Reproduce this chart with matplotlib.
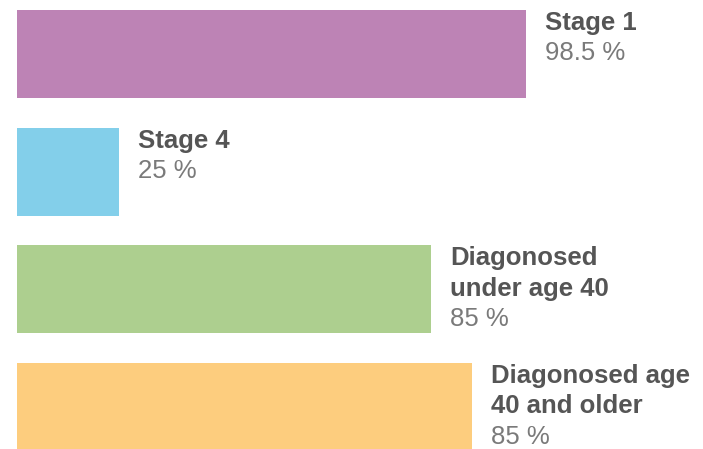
import matplotlib
matplotlib.use("Agg")
import matplotlib.pyplot as plt

# Group labels (one list per bar, one entry per text line)
labels = [
    ["Stage 1"],
    ["Stage 4"],
    ["Diagonosed", "under age 40"],
    ["Diagonosed age", "40 and older"],
]
value_text = ["98.5 %", "25 %", "85 %", "85 %"]
# bar lengths as drawn in the picture (same units as Stage 1 = 98.5)
bar_lengths = [98.5, 19.7, 80.1, 88.0]
colors = ["#BD83B5", "#83CFEA", "#ADCF8F", "#FDCD7E"]

plt.rcParams["font.family"] = ["Liberation Sans", "DejaVu Sans"]

fig = plt.figure(figsize=(7.03, 4.49), dpi=100)
ax = fig.add_axes([0, 0, 1, 1])

ypos = list(range(len(bar_lengths)))
bar_h = 0.75
ax.barh(ypos, bar_lengths, height=bar_h, color=colors, left=0)

ax.set_xlim(-3.29, 132.7)
ax.set_ylim(3.36, -0.46)
ax.axis("off")

LINE = 30.5
for y, length, lines, val in zip(ypos, bar_lengths, labels, value_text):
    top = y - bar_h / 2
    for i, line in enumerate(lines):
        ax.annotate(line, xy=(length, top), xytext=(19, -(20 + LINE * i)),
                    textcoords="offset pixels", ha="left", va="baseline",
                    fontsize=18.5, fontweight="bold", color="#555555")
    ax.annotate(val, xy=(length, top), xytext=(19, -(20 + LINE * len(lines))),
                textcoords="offset pixels", ha="left", va="baseline",
                fontsize=18.5, color="#7a7a7a")

fig.savefig("out.png", dpi=100)
